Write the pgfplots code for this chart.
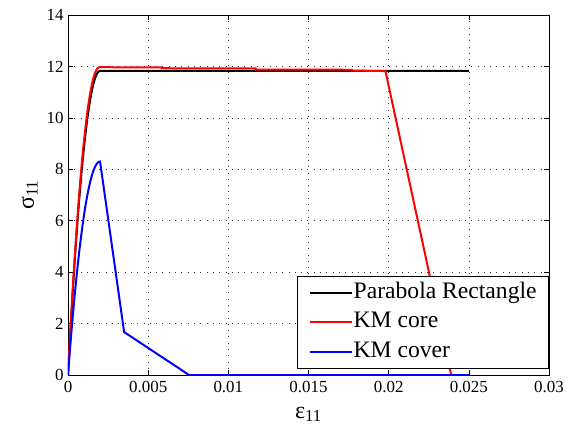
\documentclass[border=0pt]{standalone}
\usepackage{pgfplots}
\pgfplotsset{compat=1.18}
\usepackage{fontspec}
\setmainfont{Liberation Serif}
\begin{document}
\begin{tikzpicture}
\path[use as bounding box] (-68bp,-55bp) rectangle (506bp,375bp);
\begin{axis}[
 at={(0,0)}, anchor=south west,
 scale only axis, width=481bp, height=360bp,
 xmin=0, xmax=0.03, ymin=0, ymax=14,
 xtick={0,0.005,0.01,0.015,0.02,0.025,0.03},
 xticklabels={0,0.005,0.01,0.015,0.02,0.025,0.03},
 scaled x ticks=false,
 ytick={0,2,4,6,8,10,12,14},
 /pgf/number format/assume math mode=true,
 tick label style={font=\fontsize{17}{20}\selectfont, black},
 xticklabel style={yshift=-3bp},
 yticklabel style={xshift=-1bp},
 grid=major,
 major grid style={black!80, line width=0.6pt, dash pattern=on 0.8bp off 5.5bp},
 tick align=inside, major tick length=5bp,
 tick style={black, line width=0.6pt},
 axis line style={black, line width=0.8pt},
 xlabel={ε\textsubscript{11}}, ylabel={σ\textsubscript{11}},
 label style={font=\fontsize{24}{28}\selectfont},
 xlabel style={yshift=-7bp},
 ylabel style={yshift=2bp},
 legend cell align=left,
 legend style={at={(rel axis cs:1,0.017)}, anchor=south east,
   draw=black, line width=0.8pt, fill=white,
   font=\fontsize{23.7}{28}\selectfont,
   inner xsep=11bp, inner ysep=2bp,
   nodes={inner xsep=1bp, inner ysep=3.25bp, text height=17bp, text depth=6bp},
   /tikz/every even column/.append style={column sep=4bp}},
 legend image code/.code={\draw[#1, line width=2pt] (0bp,0bp) -- (42bp,0bp);},
]
\addplot[black, line width=2pt] coordinates {
(0,0) (0.0001,1.153) (0.0002,2.248) (0.0003,3.283) (0.0004,4.259) (0.0005,5.176)
(0.0006,6.033) (0.0007,6.832) (0.0008,7.571) (0.0009,8.251) (0.0010,8.873)
(0.0011,9.434) (0.0012,9.937) (0.0013,10.381) (0.0014,10.765) (0.0015,11.091)
(0.0016,11.357) (0.0017,11.564) (0.0018,11.712) (0.0019,11.800) (0.0020,11.83)
(0.025,11.83)};
\addlegendentry{Parabola Rectangle}
\addplot[red, line width=2pt] coordinates {
(0,0) (0.0000975,1.167) (0.000195,2.274) (0.0002925,3.322) (0.00039,4.309)
(0.0004875,5.237) (0.000585,6.105) (0.0006825,6.913) (0.00078,7.661)
(0.0008775,8.349) (0.000975,8.978) (0.0010725,9.546) (0.00117,10.055)
(0.0012675,10.504) (0.001365,10.893) (0.0014625,11.222) (0.00156,11.491)
(0.0016575,11.701) (0.001755,11.850) (0.0018525,11.940) (0.00195,11.97)
(0.00584,11.96) (0.00585,11.93) (0.0117,11.92) (0.01171,11.88)
(0.0177,11.87) (0.01771,11.84) (0.0198,11.82) (0.0239,0) (0.025,0)};
\addlegendentry{KM core}
\addplot[blue, line width=2pt] coordinates {
(0,0) (0.0001,0.809) (0.0002,1.577) (0.0003,2.303) (0.0004,2.988) (0.0005,3.631)
(0.0006,4.233) (0.0007,4.793) (0.0008,5.312) (0.0009,5.789) (0.0010,6.225)
(0.0011,6.619) (0.0012,6.972) (0.0013,7.283) (0.0014,7.553) (0.0015,7.781)
(0.0016,7.968) (0.0017,8.113) (0.0018,8.217) (0.0019,8.279) (0.0020,8.30)
(0.0035,1.67) (0.00755,0) (0.025,0)};
\addlegendentry{KM cover}
\end{axis}
\end{tikzpicture}
\end{document}
